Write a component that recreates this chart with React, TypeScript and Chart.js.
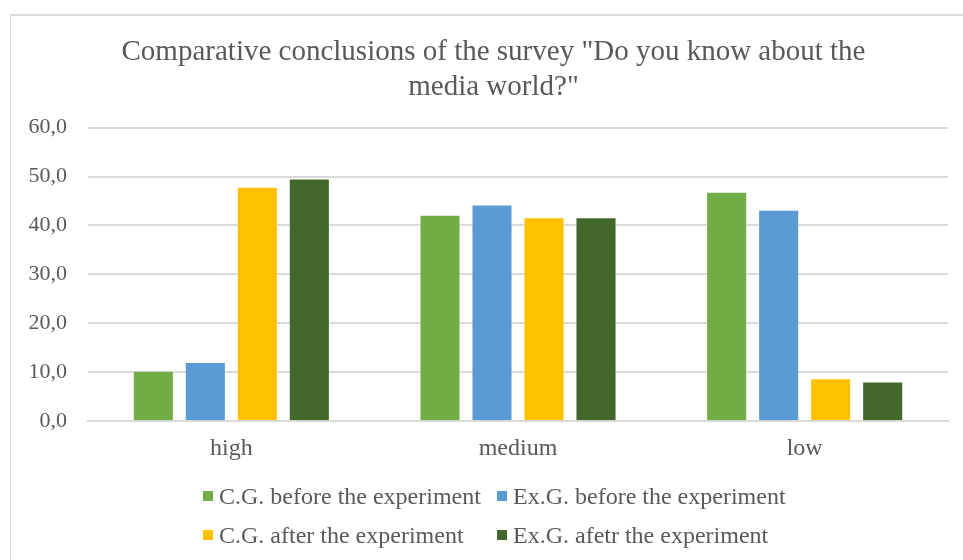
import React, { useEffect, useRef } from "react";
import { Chart, registerables } from "chart.js";

Chart.register(...registerables);

// Survey levels on the x axis
const categories = ["high", "medium", "low"];

// Share of respondents (%) per group and stage
const cgBefore = [10.3, 42.2, 46.9];
const exgBefore = [12.1, 44.3, 43.2];
const cgAfter = [47.9, 41.7, 8.8];
const exgAfter = [49.6, 41.7, 8.1];

const seriesNames = [
  "C.G. before the experiment",
  "Ex.G. before the experiment",
  "C.G. after the experiment",
  "Ex.G. afetr the experiment",
];
const seriesColors = ["#70AD47", "#5B9BD5", "#FFC000", "#44682C"];

const titleLines = [
  'Comparative conclusions of the survey "Do you know about the',
  'media world?"',
];

const yMin = 0;
const yMax = 60;
const yStep = 10;

const FONT = '"Liberation Serif", "Times New Roman", serif';
const TEXT = "#595959";
const GRID = "#d9d9d9";

// Nudges the title block sideways so it centres over the whole frame
const titleShift = {
  id: "titleShift",
  afterLayout(chart: any) {
    const t = chart.titleBlock;
    if (t) {
      t.left += 7;
      t.right += 7;
    }
  },
};

export default function App() {
  const canvasRef = useRef<HTMLCanvasElement | null>(null);

  useEffect(() => {
    const canvas = canvasRef.current;
    if (!canvas) return;
    const values = [cgBefore, exgBefore, cgAfter, exgAfter];
    const chart = new Chart(canvas, {
      type: "bar",
      data: {
        labels: categories,
        datasets: values.map((data, i) => ({
          label: seriesNames[i],
          data,
          backgroundColor: seriesColors[i],
          borderColor: "rgba(255,255,255,0.45)",
          borderWidth: 1,
          categoryPercentage: 0.7256,
          barPercentage: 0.79,
        })),
      },
      plugins: [titleShift],
      options: {
        animation: false,
        responsive: false,
        devicePixelRatio: 1,
        layout: { padding: { left: 25, right: 15, top: 0, bottom: 84 } },
        plugins: {
          legend: { display: false },
          tooltip: { enabled: false },
          title: {
            display: true,
            text: titleLines,
            color: TEXT,
            font: { family: FONT, size: 29, weight: "normal", lineHeight: 1.2 },
            padding: { top: 35, bottom: 23 },
          },
        },
        scales: {
          x: {
            grid: { display: false, drawTicks: false },
            border: { display: true, color: GRID, width: 2 },
            ticks: {
              color: TEXT,
              font: { family: FONT, size: 24 },
              padding: 13,
            },
          },
          y: {
            min: yMin,
            max: yMax,
            afterFit: (scale: any) => {
              scale.width = 63;
            },
            grid: { color: GRID, lineWidth: 2, drawTicks: false },
            border: { display: false },
            ticks: {
              stepSize: yStep,
              color: TEXT,
              padding: 21,
              font: { family: FONT, size: 22 },
              callback: (v: any) => Number(v).toFixed(1).replace(".", ","),
            },
          },
        },
      },
    });
    return () => chart.destroy();
  }, []);

  return (
    <div
      style={{
        position: "fixed",
        left: 0,
        top: 0,
        width: 963,
        height: 560,
        background: "#fff",
        overflow: "hidden",
      }}
    >
      <div
        style={{
          position: "absolute",
          left: 10,
          top: 14,
          right: 0,
          bottom: 0,
          borderTop: `2px solid ${GRID}`,
          borderLeft: `1px solid ${GRID}`,
        }}
      />
      <canvas
        ref={canvasRef}
        width={963}
        height={560}
        style={{ position: "absolute", left: 0, top: 0 }}
      />
      <div
        style={{
          position: "absolute",
          left: 203,
          top: 482,
          display: "grid",
          gridTemplateColumns: "294px auto",
          rowGap: 11,
          fontFamily: FONT,
          fontSize: 24,
          color: TEXT,
          lineHeight: "28px",
        }}
      >
        {seriesNames.map((name, i) => (
          <div key={name} style={{ display: "flex", alignItems: "center", whiteSpace: "nowrap" }}>
            <span
              style={{
                display: "inline-block",
                width: 10,
                height: 10,
                background: seriesColors[i],
                marginRight: 6,
              }}
            />
            <span>{name}</span>
          </div>
        ))}
      </div>
    </div>
  );
}
